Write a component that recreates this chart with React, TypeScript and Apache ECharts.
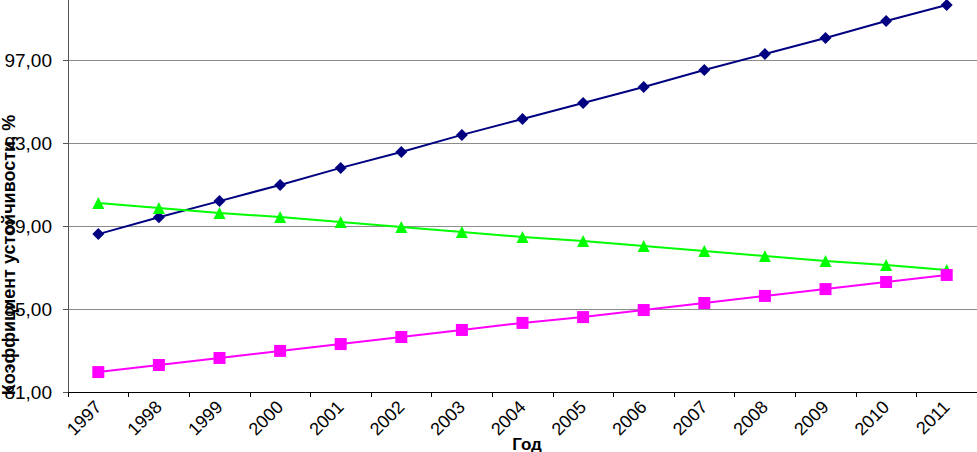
import React, { useEffect, useRef } from "react";
import * as echarts from "echarts";

const years = ["1997","1998","1999","2000","2001","2002","2003","2004","2005","2006","2007","2008","2009","2010","2011"];
const blueSeries = [88.61, 89.42, 90.2, 90.98, 91.8, 92.57, 93.39, 94.16, 94.93, 95.7, 96.52, 97.29, 98.06, 98.88, 99.65];
const greenSeries = [90.11, 89.87, 89.63, 89.43, 89.19, 88.95, 88.71, 88.47, 88.28, 88.04, 87.8, 87.55, 87.31, 87.12, 86.88];
const magentaSeries = [81.96, 82.3, 82.64, 82.98, 83.31, 83.65, 83.99, 84.33, 84.61, 84.95, 85.29, 85.63, 85.96, 86.3, 86.64];
const yAxisTitle = "Коэффициент устойчивости, %";
const xAxisTitle = "Год";

const FONT = "'Liberation Sans', Arial, sans-serif";
const SHIFT = 40;

export default function App() {
  const ref = useRef<HTMLDivElement>(null);
  useEffect(() => {
    if (!ref.current) return;
    const chart = echarts.init(ref.current, null, { renderer: "svg" });
    chart.setOption({
      animation: false,
      backgroundColor: "#ffffff",
      grid: { left: 68, right: 0, top: SHIFT - 23, bottom: 60, containLabel: false, outerBoundsMode: "none" },
      xAxis: {
        type: "category",
        data: years,
        boundaryGap: true,
        axisLine: { lineStyle: { color: "#000000", width: 1 } },
        axisTick: { show: true, inside: false, length: 5, lineStyle: { color: "#000000" } },
        axisLabel: { rotate: 45, fontSize: 18, color: "#000000", fontFamily: FONT, margin: 12 },
        splitLine: { show: false },
      },
      yAxis: {
        type: "value",
        min: 81,
        max: 101,
        interval: 4,
        axisLine: { show: true, lineStyle: { color: "#555555", width: 1 } },
        axisTick: { show: true, inside: false, length: 5, lineStyle: { color: "#555555" } },
        axisLabel: {
          fontSize: 19,
          color: "#000000",
          fontFamily: FONT,
          margin: 16,
          formatter: (v: number) => (v > 100 ? "" : v.toFixed(2).replace(".", ",")),
        },
        splitLine: { show: true, lineStyle: { color: "#8c8c8c", width: 1 } },
      },
      graphic: [
        {
          type: "text",
          x: 9,
          y: 255 + SHIFT,
          rotation: Math.PI / 2,
          style: {
            text: yAxisTitle,
            fontSize: 18,
            fontWeight: "bold",
            fontFamily: FONT,
            fill: "#000000",
            textAlign: "center",
            textVerticalAlign: "middle",
          },
        },
        {
          type: "text",
          x: 527,
          y: 444 + SHIFT,
          style: {
            text: xAxisTitle,
            fontSize: 17,
            fontWeight: "bold",
            fontFamily: FONT,
            fill: "#000000",
            textAlign: "center",
            textVerticalAlign: "middle",
          },
        },
      ],
      series: [
        {
          type: "line",
          data: blueSeries,
          symbol: "diamond",
          symbolSize: 12,
          lineStyle: { color: "#000080", width: 2 },
          itemStyle: { color: "#000080" },
        },
        {
          type: "line",
          data: greenSeries,
          symbol: "triangle",
          symbolSize: 12,
          lineStyle: { color: "#00ff00", width: 2 },
          itemStyle: { color: "#00ff00" },
        },
        {
          type: "line",
          data: magentaSeries,
          symbol: "rect",
          symbolSize: 12,
          lineStyle: { color: "#ff00ff", width: 2 },
          itemStyle: { color: "#ff00ff" },
        },
      ],
    });
    return () => chart.dispose();
  }, []);
  return (
    <div
      ref={ref}
      style={{ position: "absolute", left: 0, top: -SHIFT, width: 977, height: 452 + SHIFT }}
    />
  );
}
